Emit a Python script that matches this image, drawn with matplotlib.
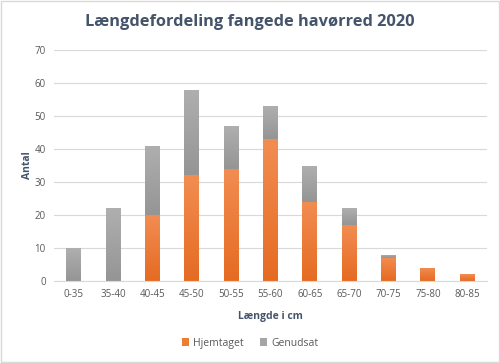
import matplotlib
matplotlib.use("Agg")
import matplotlib.pyplot as plt
import numpy as np
from matplotlib.patches import Rectangle
from matplotlib.colors import LinearSegmentedColormap

categories = ["0-35", "35-40", "40-45", "45-50", "50-55", "55-60", "60-65", "65-70", "70-75", "75-80", "80-85"]
hjemtaget = [0, 0, 20, 32, 34, 43, 24, 17, 7, 4, 2]
genudsat = [10, 22, 21, 26, 13, 10, 11, 5, 1, 0, 0]

plt.rcParams['font.family'] = ['Open Sans', 'DejaVu Sans']

fig = plt.figure(figsize=(5.0, 3.63), dpi=100)
ax = fig.add_axes([0.108, 0.226, 0.866, 0.636])

x = np.arange(len(categories))
w = 0.38
orange_cmap = LinearSegmentedColormap.from_list("o", ["#E56B22", "#F28D52"])
gray_cmap = LinearSegmentedColormap.from_list("g", ["#959595", "#AFAFAF"])

b1 = ax.bar(x, hjemtaget, w, color="#ED7D31", label="Hjemtaget", zorder=2)
b2 = ax.bar(x, genudsat, w, bottom=hjemtaget, color="#A5A5A5", label="Genudsat", zorder=2)

grad = np.linspace(0, 1, 100).reshape(-1, 1)
for bars, cmap in ((b1, orange_cmap), (b2, gray_cmap)):
    for p in bars:
        if p.get_height() <= 0:
            continue
        x0, y0 = p.get_x(), p.get_y()
        x1, y1 = x0 + p.get_width(), y0 + p.get_height()
        im = ax.imshow(grad, cmap=cmap, extent=[x0, x1, y0, y1], origin="lower",
                       aspect="auto", zorder=2.5)
        im.set_clip_path(p)

ax.set_xlim(-0.5, len(categories) - 0.5)
ax.set_ylim(0, 70)
ax.set_yticks(range(0, 71, 10))
ax.set_xticks(x)
ax.set_xticklabels(categories)
ax.tick_params(axis="both", length=0, labelsize=7, colors="#595959", pad=6)
ax.grid(axis="y", color="#D9D9D9", linewidth=0.8, zorder=0)
for s in ax.spines.values():
    s.set_visible(False)
ax.spines["bottom"].set_visible(True)
ax.spines["bottom"].set_color("#D9D9D9")

ax.set_xlabel("Længde i cm", fontsize=7.5, fontweight="bold", color="#44546A", labelpad=8)
ax.set_ylabel("Antal", fontsize=7.5, fontweight="bold", color="#44546A", labelpad=1)

fig.text(0.5, 0.94, "Længdefordeling fangede havørred 2020", ha="center", va="center",
         fontsize=11.8, fontweight="bold", color="#44546A")

leg = fig.legend(handles=[b1, b2], loc="center", bbox_to_anchor=(0.5, 0.055), ncol=2,
                 frameon=False, fontsize=7.5, handlelength=0.7, handleheight=0.7,
                 columnspacing=1.5, handletextpad=0.4, labelcolor="#595959")

fig.patches.append(Rectangle((0.002, 0.003), 0.996, 0.994, transform=fig.transFigure,
                             fill=False, edgecolor="#D9D9D9", linewidth=1))

fig.savefig("out.png", dpi=100)
